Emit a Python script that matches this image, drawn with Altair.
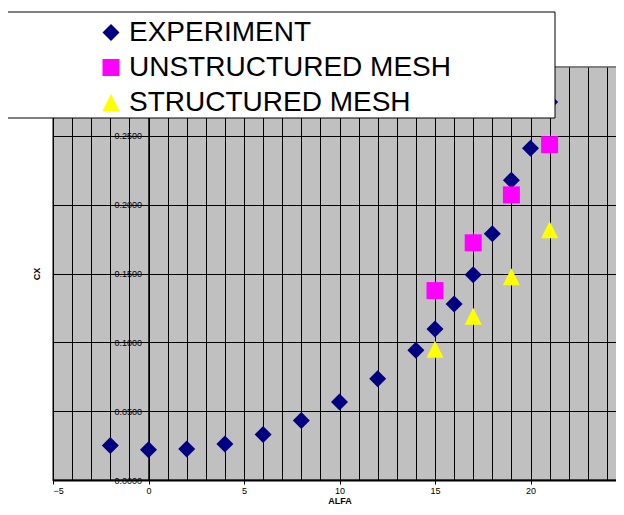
import altair as alt
import pandas as pd

# ---- data ----
exp_alfa = [-2, 0, 2, 4, 6, 8, 10, 12, 14, 15, 16, 17, 18, 19, 20, 21]
exp_cx = [0.0250, 0.0219, 0.0226, 0.0262, 0.0330, 0.0432, 0.0566, 0.0736,
          0.0943, 0.1096, 0.1279, 0.1491, 0.1789, 0.2178, 0.2410, 0.2746]
uns_alfa = [15, 17, 19, 21]
uns_cx = [0.1376, 0.1723, 0.2071, 0.2436]
str_alfa = [15, 17, 19, 21]
str_cx = [0.0949, 0.1189, 0.1477, 0.1818]

series_names = ["EXPERIMENT", "UNSTRUCTURED MESH", "STRUCTURED MESH"]
series_colors = ["#000080", "#FF00FF", "#FFFF00"]
series_shapes = ["diamond", "square", "M0,-1L1,1L-1,1Z"]

x_ticks = list(range(-5, 26))
y_ticks = [0.0, 0.05, 0.10, 0.15, 0.20, 0.25]

rows = []
for name, xs, ys in [(series_names[0], exp_alfa, exp_cx),
                     (series_names[1], uns_alfa, uns_cx),
                     (series_names[2], str_alfa, str_cx)]:
    for a, c in zip(xs, ys):
        rows.append({"series": name, "alfa": a, "cx": c})
df = pd.DataFrame(rows)

legend = alt.Legend(
    orient="none", legendX=44, legendY=-48.5, title=None, padding=0,
    symbolSize=289, symbolStrokeWidth=0, symbolOpacity=1,
    labelFontSize=28, labelFont="Liberation Sans", labelColor="black",
    rowPadding=7, labelOffset=4, labelLimit=1000,
)

points = alt.Chart(df).mark_point(filled=True, size=289, opacity=1, strokeWidth=0).encode(
    x=alt.X("alfa:Q",
            scale=alt.Scale(domain=[-5, 25], nice=False, zero=False),
            axis=alt.Axis(values=x_ticks, format="d",
                          labelExpr="datum.value % 5 === 0 ? datum.label : ''",
                          tickOpacity={"condition": {"test": "datum.value % 5 === 0", "value": 1}, "value": 0},
                          title="ALFA", tickSize=4, domainWidth=2, labelPadding=2,
                          titlePadding=1)),
    y=alt.Y("cx:Q",
            scale=alt.Scale(domain=[0, 0.3], nice=False, zero=True),
            axis=alt.Axis(values=y_ticks, format=".4f", offset=-95.5,
                          title="CX", titleX=-112, titleBaseline="middle",
                          tickSize=5, labelPadding=2, domainWidth=1.5)),
    color=alt.Color("series:N", scale=alt.Scale(domain=series_names, range=series_colors), legend=legend),
    shape=alt.Shape("series:N", scale=alt.Scale(domain=series_names, range=series_shapes), legend=legend),
)

box = alt.Chart(pd.DataFrame({"k": [0]})).mark_rect(
    fill="white", stroke="black", strokeWidth=1
).encode(x=alt.value(-48), x2=alt.value(502), y=alt.value(-55), y2=alt.value(51))

chart = alt.layer(points, box).properties(
    width=573, height=413,
    autosize=alt.AutoSizeParams(type="none"),
    padding={"left": 45, "top": 59, "right": -10, "bottom": 27},
).configure_view(
    fill="#C0C0C0", stroke="#808080", strokeWidth=2
).configure_axis(
    labelFont="Liberation Sans", labelFontSize=9, labelColor="black",
    titleFont="Liberation Sans", titleFontSize=9, titleFontWeight="bold", titleColor="black",
    grid=True, gridColor="black", gridWidth=1, gridOpacity=1,
    domainColor="black", tickColor="black",
)

chart.save("out.html", embed_options={"renderer": "svg", "actions": False})
